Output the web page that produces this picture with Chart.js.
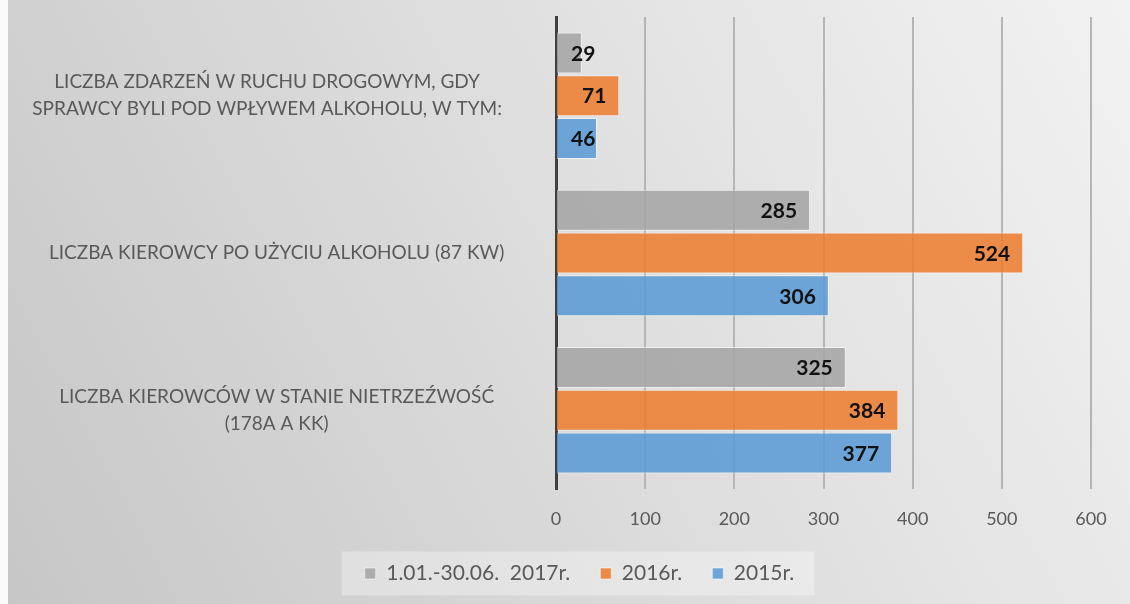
<!DOCTYPE html>
<html lang="pl">
<head>
<meta charset="utf-8">
<title>Alkohol - statystyki</title>
<script src="https://cdn.jsdelivr.net/npm/chart.js@4/dist/chart.umd.min.js"></script>
<style>
  html, body { margin: 0; padding: 0; background: #fff; }
  #contenedor { position: relative; width: 1130px; height: 604px; }
</style>
</head>
<body>
<div id="contenedor"><canvas id="myChart"></canvas></div>
<script>
// Datos
const categorias = [
  ['LICZBA ZDARZEŃ W RUCHU DROGOWYM, GDY', 'SPRAWCY BYLI POD WPŁYWEM ALKOHOLU, W TYM:'],
  'LICZBA KIEROWCY PO UŻYCIU ALKOHOLU (87 KW)',
  ['LICZBA KIEROWCÓW W STANIE NIETRZEŹWOŚĆ', '(178A A KK)']
];
const series = ['1.01.-30.06.  2017r.', '2016r.', '2015r.'];
const valores2017 = [29, 285, 325];
const valores2016 = [71, 524, 384];
const valores2015 = [46, 306, 377];
const ticksX = [0, 100, 200, 300, 400, 500, 600];

const colores = ['rgba(165,165,165,0.88)', 'rgba(237,125,49,0.88)', 'rgba(91,155,213,0.88)'];
const grisTexto = '#595959';
const fuente = 'Lato';

// Fondo degradado y caja de la leyenda
const fondoPlugin = {
  id: 'fondo',
  beforeDraw(chart) {
    const { ctx, width, height } = chart;
    ctx.save();
    const grad = ctx.createLinearGradient(width, 0, 0, height);
    grad.addColorStop(0, '#f2f2f2');
    grad.addColorStop(0.5, '#dddddd');
    grad.addColorStop(1, '#c6c6c6');
    ctx.fillStyle = grad;
    ctx.fillRect(0, 0, width, height);
    ctx.fillStyle = '#fbfbfb';
    ctx.fillRect(0, 0, 8, height);

    const cajas = chart.legend && chart.legend.legendHitBoxes;
    if (cajas && cajas.length) {
      const izq = cajas[0].left - 23;
      const ult = cajas[cajas.length - 1];
      const der = ult.left + ult.width + 20;
      const cy = cajas[0].top + cajas[0].height / 2;
      ctx.fillStyle = 'rgba(255,255,255,0.32)';
      ctx.fillRect(izq, cy - 22, der - izq, 44);
    }
    ctx.restore();
  },
  afterLayout(chart) {
    // la leyenda está un poco desplazada a la derecha en el original
    chart.legend.left += 30;
    chart.legend.right += 30;
  }
};

// Etiquetas de valores dentro de las barras
const etiquetasPlugin = {
  id: 'etiquetas',
  afterDatasetsDraw(chart) {
    const ctx = chart.ctx;
    ctx.save();
    ctx.font = 'bold 21px ' + fuente;
    ctx.fillStyle = '#111';
    ctx.textAlign = 'right';
    ctx.textBaseline = 'middle';
    chart.data.datasets.forEach((ds, i) => {
      chart.getDatasetMeta(i).data.forEach((bar, j) => {
        const txt = String(ds.data[j]);
        const w = ctx.measureText(txt).width;
        const x = Math.max(bar.x - 13, bar.base + 14 + w);
        ctx.fillText(txt, x, bar.y + 1);
      });
    });
    ctx.restore();
  }
};

const ctx = document.getElementById('myChart').getContext('2d');
new Chart(ctx, {
  type: 'bar',
  data: {
    labels: categorias,
    datasets: [
      { label: series[0], data: valores2017, backgroundColor: colores[0] },
      { label: series[1], data: valores2016, backgroundColor: colores[1] },
      { label: series[2], data: valores2015, backgroundColor: colores[2] }
    ].map(d => Object.assign(d, {
      borderColor: 'rgba(255,255,255,0.55)',
      borderWidth: 1,
      categoryPercentage: 0.815,
      barPercentage: 0.96
    }))
  },
  options: {
    indexAxis: 'y',
    responsive: true,
    maintainAspectRatio: false,
    animation: false,
    layout: { padding: { left: 8, top: 17, right: 39, bottom: 10 } },
    plugins: {
      title: { display: false },
      tooltip: { enabled: false },
      legend: {
        position: 'bottom',
        labels: {
          color: grisTexto,
          font: { family: fuente, size: 21 },
          boxWidth: 11,
          boxHeight: 11,
          padding: 30
        }
      }
    },
    scales: {
      x: {
        min: 0,
        max: 600,
        afterBuildTicks(scale) {
          scale.ticks = ticksX.map(v => ({ value: v }));
        },
        afterFit(scale) { scale.height = 44; },
        grid: { color: '#b5b5b5', lineWidth: 2, drawTicks: false },
        border: { display: false },
        ticks: { color: grisTexto, font: { family: fuente, size: 18 }, padding: 19 }
      },
      y: {
        z: 1,
        afterFit(scale) {
          scale.width = 548;
          scale.paddingTop = 0;
          scale.paddingBottom = 0;
        },
        grid: { display: false },
        border: { display: true, color: '#404040', width: 3 },
        ticks: {
          color: grisTexto,
          crossAlign: 'center',
          padding: 27,
          font: { family: fuente, size: 19, lineHeight: '27px' },
          // la primera etiqueta está algo más a la izquierda en el original
          callback(value, index) {
            const l = this.getLabelForValue(value);
            return index === 0 ? categorias[0].map(t => t + '\u2002\u2002') : l;
          }
        }
      }
    }
  },
  plugins: [fondoPlugin, etiquetasPlugin]
});
</script>
</body>
</html>
